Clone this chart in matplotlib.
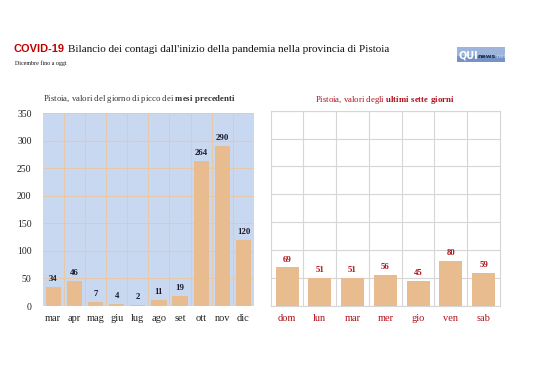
import matplotlib
matplotlib.use("Agg")
import matplotlib.pyplot as plt
from matplotlib.patches import Rectangle

# data
mesi = ["mar", "apr", "mag", "giu", "lug", "ago", "set", "ott", "nov", "dic"]
picchi = [34, 46, 7, 4, 2, 11, 19, 264, 290, 120]
giorni = ["dom", "lun", "mar", "mer", "gio", "ven", "sab"]
ultimi = [69, 51, 51, 56, 45, 80, 59]
yticks = [0, 50, 100, 150, 200, 250, 300, 350]

BAR = "#e9bc90"
BLUE_BG = "#c9d8f1"
GRID_TAN = "#e6c9a8"
RED = "#b0101a"
SERIF = "Liberation Serif"

plt.rcParams["mathtext.fontset"] = "custom"
plt.rcParams["mathtext.rm"] = SERIF
plt.rcParams["mathtext.bf"] = SERIF + ":bold"

fig = plt.figure(figsize=(5.38, 3.80), dpi=100)
W, H = 538, 380

def ax_px(x0, y0, x1, y1):
    return fig.add_axes([x0 / W, 1 - y1 / H, (x1 - x0) / W, (y1 - y0) / H])

# logo (also used as host for the title annotation)
lax = ax_px(457, 47, 505, 62)
lax.set_xlim(0, 1); lax.set_ylim(0, 1); lax.axis("off")
lax.add_patch(Rectangle((0, 0), 1, 1, color="#7394c4"))
lax.add_patch(Rectangle((0, 0.5), 1, 0.5, color="#9db5da"))
lax.text(0.04, 0.45, "QUI", color="white", fontsize=7, fontweight="bold", va="center", family="DejaVu Sans")
lax.text(0.42, 0.4, "news", color="#1d2c55", fontsize=4.5, fontweight="bold", va="center", family="DejaVu Sans")
lax.text(0.80, 0.4, ".net", color="#c9d6ea", fontsize=4, va="center", family="DejaVu Sans")

# title
t_covid = fig.text(14 / W, 1 - 52 / H, "COVID-19", fontsize=7.9, fontweight="bold", color="#c00000",
                   family="Liberation Sans", va="baseline")
lax.annotate("Bilancio dei contagi dall'inizio della pandemia nella provincia di Pistoia",
             xy=(1, 0), xycoords=t_covid, xytext=(2.5, 0), textcoords="offset points",
             fontsize=8, family=SERIF, color="#111111", va="bottom", annotation_clip=False)
fig.text(15 / W, 1 - 65 / H, "Dicembre fino a oggi", fontsize=4.3, family=SERIF, color="#111111",
         va="baseline")

# left chart
ax1 = ax_px(42.7, 113.3, 254, 306)
ax1.set_facecolor(BLUE_BG)
x1 = range(len(mesi))
ax1.bar(x1, picchi, width=0.72, color=BAR, zorder=3)
ax1.set_xlim(-0.5, len(mesi) - 0.5)
ax1.set_ylim(0, 350)
ax1.set_yticks(yticks)
ax1.set_xticks(list(x1))
ax1.set_xticklabels(mesi, family=SERIF, fontsize=7.5, color="#222222")
ax1.set_yticklabels([str(v) for v in yticks], family=SERIF, fontsize=7, color="#222222")
ax1.set_xticks([i + 0.5 for i in range(len(mesi) - 1)], minor=True)
ax1.grid(axis="y", color=GRID_TAN, lw=0.8, zorder=0)
ax1.grid(axis="x", which="minor", color=GRID_TAN, lw=0.8, zorder=0)
ax1.tick_params(length=0, pad=6)
ax1.tick_params(axis="y", pad=8)
ax1.tick_params(which="minor", length=0)
for s in ax1.spines.values():
    s.set_visible(False)
for i, v in enumerate(picchi):
    ax1.text(i, v + 7, str(v), ha="center", va="bottom", fontsize=6.3, fontweight="bold",
             family=SERIF, color="#1a1a2a", zorder=4)
fig.text(139 / W, 1 - 101 / H, "Pistoia, valori del giorno di picco dei $\\mathbf{mesi\\ precedenti}$",
         fontsize=6.3, family=SERIF, color="#333333", ha="center", va="baseline")

# right chart
ax2 = ax_px(270.7, 110.7, 500, 306)
ax2.set_facecolor("white")
x2 = range(len(giorni))
ax2.bar(x2, ultimi, width=0.7, color=BAR, zorder=3)
ax2.set_xlim(-0.5, len(giorni) - 0.5)
ax2.set_ylim(0, 350)
ax2.set_yticks(yticks)
ax2.set_yticklabels([])
ax2.set_xticks(list(x2))
ax2.set_xticklabels(giorni, family=SERIF, fontsize=7.5, color=RED)
ax2.set_xticks([i + 0.5 for i in range(len(giorni) - 1)], minor=True)
ax2.grid(axis="y", color="#d6d6d6", lw=0.8, zorder=0)
ax2.grid(axis="x", which="minor", color="#d6d6d6", lw=0.8, zorder=0)
ax2.tick_params(length=0, pad=6)
ax2.tick_params(which="minor", length=0)
for s in ax2.spines.values():
    s.set_color("#d6d6d6")
    s.set_linewidth(0.8)
for i, v in enumerate(ultimi):
    ax2.text(i, v + 7, str(v), ha="center", va="bottom", fontsize=6.3, fontweight="bold",
             family=SERIF, color=RED, zorder=4)
ax2.set_title("Pistoia, valori degli $\\mathbf{ultimi\\ sette\\ giorni}$",
              fontsize=6.3, family=SERIF, color=RED, pad=6)

fig.savefig("out.png", dpi=100)
